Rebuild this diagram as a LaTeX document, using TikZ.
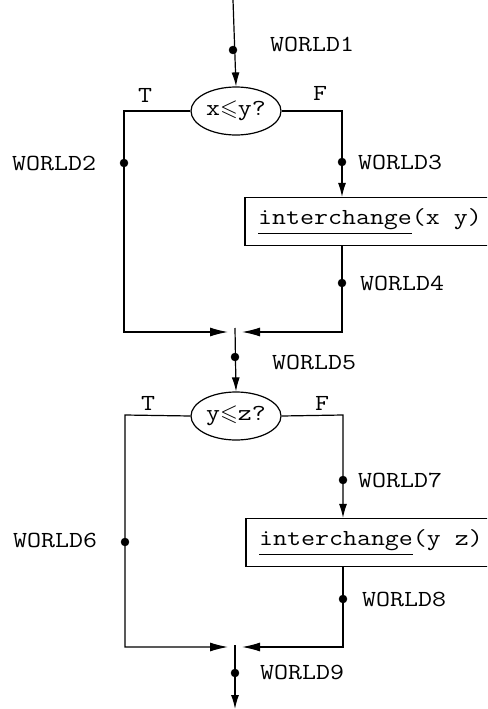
\documentclass[tikz,border=0pt]{standalone}
\usepackage{amssymb}
\usepackage{fontspec}
\newfontfamily\typewriter[FakeStretch=1.18]{Latin Modern Mono}
\usetikzlibrary{arrows.meta,shapes.geometric}
\newcommand{\wdot}[1]{
   \filldraw[fill=black,draw=black] (#1) circle (4pt);
}
\tikzset{
  every node/.style={font=\typewriter\fontsize{23}{25}\selectfont},
  flow/.style={line width=1.2pt},
  arr/.style={flow,-{Latex[length=14pt,width=8pt]}},
  merge/.style={flow,-{Latex[length=18pt,width=9pt]}},
  test/.style={ellipse,draw,line width=1.2pt,minimum width=90pt,minimum height=48pt,inner sep=0pt},
  action/.style={rectangle,draw,line width=1.2pt,minimum width=250pt,minimum height=48pt,inner sep=0pt},
  wlabel/.style={anchor=west,inner sep=0pt}
}

\begin{document}
\begin{tikzpicture}[x=1pt,y=-1pt]
    \useasboundingbox (0,0) rectangle (487,709);
    \clip (0,0) rectangle (487,709);
    % first test
    \coordinate (start) at (233,0);
    \node[test] (test1) at (236,111) {x$\leqslant$y?};
    \node[action] (swap1) at (370,221.5) {\underline{interchange}(x y)};
    \coordinate (t1L) at (124,111);
    \coordinate (t1R) at (342,111);
    \coordinate (m1L) at (124,332);
    \coordinate (m1R) at (342,332);
    \coordinate (tip1L) at (228,332);
    \coordinate (tip1R) at (242,332);
    \coordinate (join1) at (235,328);
    \draw[arr] (start) -- (test1.north);
    \draw[merge] (test1.west) -- (t1L) -- (m1L) -- (tip1L);
    \draw[arr] (test1.east) -- (t1R) -- (t1R |- swap1.north);
    \draw[merge] (t1R |- swap1.south) -- (m1R) -- (tip1R);
    \node at (145,95) {T};
    \node at (320,93) {F};
    \wdot{233,50};
    \wdot{124,163};
    \wdot{342,162};
    \wdot{342,283};
    \node[wlabel] (w1) at (270,44) {WORLD1};
    \node[wlabel] (w2) at (12,163) {WORLD2};
    \node[wlabel] (w3) at (358,162) {WORLD3};
    \node[wlabel] (w4) at (360,283) {WORLD4};
    % second test
    \node[test] (test2) at (236,416) {y$\leqslant$z?};
    \node[action] (swap2) at (371,542.5) {\underline{interchange}(y z)};
    \coordinate (t2L) at (125,415);
    \coordinate (t2R) at (343,415);
    \coordinate (m2L) at (125,647);
    \coordinate (m2R) at (343,647);
    \coordinate (tip2L) at (228,647);
    \coordinate (tip2R) at (242,647);
    \coordinate (join2) at (235,645);
    \coordinate (finish) at (235,709);
    \draw[arr] (join1) -- (test2.north);
    \draw[merge] (test2.west) -- (t2L) -- (m2L) -- (tip2L);
    \draw[arr] (test2.east) -- (t2R) -- (t2R |- swap2.north);
    \draw[merge] (t2R |- swap2.south) -- (m2R) -- (tip2R);
    \draw[arr] (join2) -- (finish);
    \node at (148,403) {T};
    \node at (322,403) {F};
    \wdot{235,357};
    \wdot{125,542};
    \wdot{343,480};
    \wdot{343,599};
    \wdot{235,673};
    \node[wlabel] (w5) at (272,362) {WORLD5};
    \node[wlabel] (w6) at (13,540) {WORLD6};
    \node[wlabel] (w7) at (358,480) {WORLD7};
    \node[wlabel] (w8) at (362,599) {WORLD8};
    \node[wlabel] (w9) at (260,672) {WORLD9};
\end{tikzpicture}
\end{document}
